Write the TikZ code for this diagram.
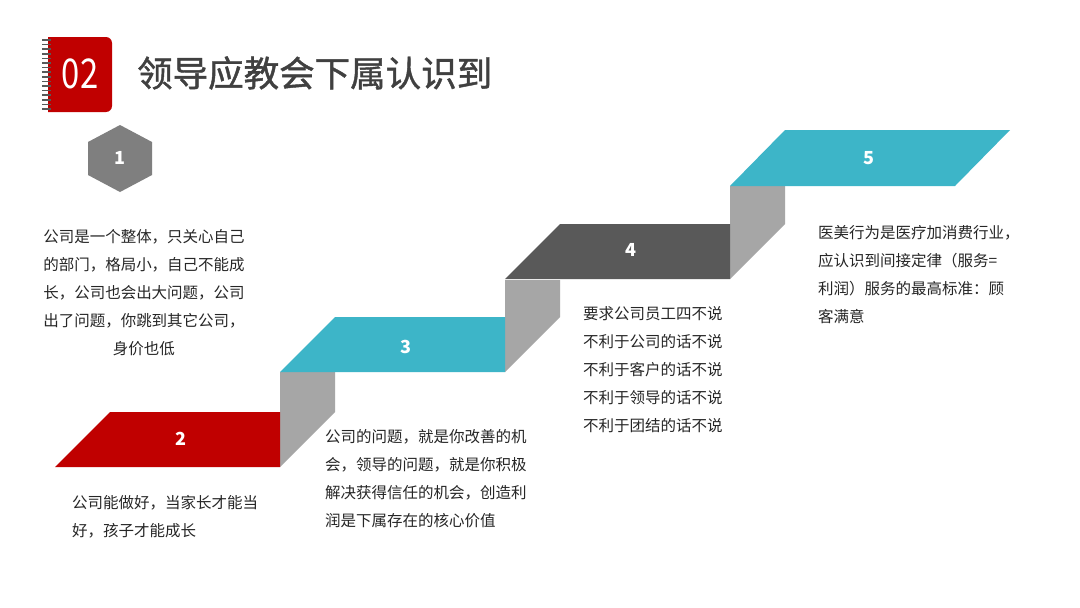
\documentclass[tikz,border=0pt]{standalone}
\usepackage{fontspec}
\setmainfont{Noto Sans CJK SC}
\newfontfamily\titlefont[FakeBold=1.2]{Noto Sans CJK SC}
\definecolor{stepred}{HTML}{C00000}
\definecolor{stepcyan}{HTML}{3DB5C8}
\definecolor{stepdark}{HTML}{595959}
\definecolor{riser}{HTML}{A6A6A6}
\definecolor{hexgray}{HTML}{7F7F7F}
\definecolor{titlegray}{HTML}{404040}
\definecolor{bodytext}{HTML}{262626}
\definecolor{ringgray}{HTML}{595959}
\begin{document}
\begin{tikzpicture}[x=1pt,y=-1pt,
  body/.style={inner sep=0pt, text=bodytext, font=\fontsize{15.5}{28}\selectfont},
  numlabel/.style={inner sep=0pt, text=white, font=\fontsize{18}{18}\selectfont\bfseries},
  riserface/.style={fill=riser},
]
\fill[white] (0,0) rectangle (1080,608);
\useasboundingbox (0,0) rectangle (1080,608);

% notebook icon
\fill[stepred] (48,112) -- (48,37) [rounded corners=6pt] -- (112,37) -- (112,112) [sharp corners] -- cycle;
\foreach \yy in {40,44.6,...,110} \draw[ringgray, line width=1.6pt] (42,\yy) -- (51,\yy);
\node[text=white, font=\fontsize{41}{41}\selectfont, inner sep=0pt] (num02) at (80,74) {\scalebox{0.8}[1]{02}};

% title
\node[anchor=west, text=titlegray, font=\fontsize{35.5}{36}\selectfont\titlefont, inner sep=0pt] (title) at (137,73) {领导应教会下属认识到};

% hexagon 1
\fill[hexgray] (120,125) -- (152,142) -- (152,175) -- (120,192) -- (88,175) -- (88,142) -- cycle;
\node[numlabel] (n1) at (120,158) {1};

% risers
\fill[riserface] (280,372) -- (335,372) -- (335,412) -- (280,467) -- cycle;
\fill[riserface] (505,280) -- (560,280) -- (560,317) -- (505,372) -- cycle;
\fill[riserface] (730,186) -- (785,186) -- (785,224) -- (730,279) -- cycle;

% steps
\fill[stepred]  (110,412) -- (280,412) -- (280,467) -- (55,467) -- cycle;
\fill[stepcyan] (335,317) -- (505,317) -- (505,372) -- (280,372) -- cycle;
\fill[stepdark] (560,224) -- (730,224) -- (730,279) -- (505,279) -- cycle;
\fill[stepcyan] (785,130) -- (1010,130) -- (955,186) -- (730,186) -- cycle;

\node[numlabel] (n2) at (181,439) {2};
\node[numlabel] (n3) at (406,347) {3};
\node[numlabel] (n4) at (631,250) {4};
\node[numlabel] (n5) at (869,158) {5};

% texts
\node[body, anchor=north, align=center] (t1) at (144,229)
  {公司是一个整体，只关心自己\\的部门，格局小，自己不能成\\长，公司也会出大问题，公司\\出了问题，你跳到其它公司，\\身价也低};
\node[body, anchor=north west, align=left] (t2) at (72,495)
  {公司能做好，当家长才能当\\好，孩子才能成长};
\node[body, anchor=north west, align=left] (t3) at (325,429)
  {公司的问题，就是你改善的机\\会，领导的问题，就是你积极\\解决获得信任的机会，创造利\\润是下属存在的核心价值};
\node[body, anchor=north west, align=left] (t4) at (583,306)
  {要求公司员工四不说\\不利于公司的话不说\\不利于客户的话不说\\不利于领导的话不说\\不利于团结的话不说};
\node[body, anchor=north west, align=left] (t5) at (818,225)
  {医美行为是医疗加消费行业，\\应认识到间接定律（服务=\\利润）服务的最高标准：顾\\客满意};
\end{tikzpicture}
\end{document}
